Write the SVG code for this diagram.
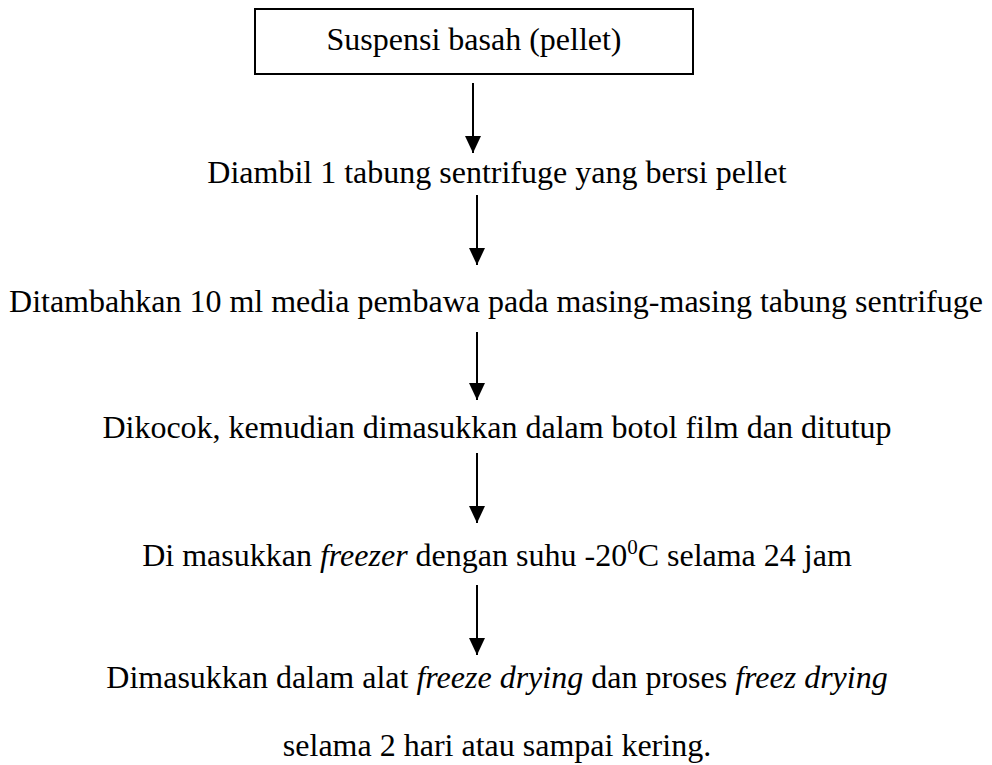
<svg xmlns="http://www.w3.org/2000/svg" width="992" height="765" viewBox="0 0 992 765">
<style>
.t{font-family:"Liberation Serif","Times New Roman",serif;font-size:32px;fill:#000;text-anchor:middle}
.i{font-style:italic}
.c{stroke:#000;stroke-width:2;fill:none}
</style>
<defs>
<marker id="ah" markerUnits="userSpaceOnUse" markerWidth="17" markerHeight="16" refX="17" refY="8" orient="auto" viewBox="0 0 17 16">
<path d="M0,0 L17,8 L0,16 Z" fill="#000"/>
</marker>
</defs>
<rect width="992" height="765" fill="#fff"/>
<g id="n1">
<rect x="255" y="9" width="438" height="65" fill="#fff" stroke="#000" stroke-width="2"/>
<text class="t" x="474" y="50">Suspensi basah (pellet)</text>
</g>
<g id="n2"><text class="t" x="497" y="183">Diambil 1 tabung sentrifuge yang bersi pellet</text></g>
<g id="n3"><text class="t" x="496" y="312">Ditambahkan 10 ml media pembawa pada masing-masing tabung sentrifuge</text></g>
<g id="n4"><text class="t" x="497" y="438">Dikocok, kemudian dimasukkan dalam botol film dan ditutup</text></g>
<g id="n5"><text class="t" x="497" y="566">Di masukkan <tspan class="i">freezer</tspan> dengan suhu -20<tspan font-size="21" dy="-12">0</tspan><tspan dy="12">C selama 24 jam</tspan></text></g>
<g id="n6">
<text class="t" x="497" y="688">Dimasukkan dalam alat <tspan class="i">freeze drying</tspan> dan proses <tspan class="i">freez drying</tspan></text>
<text class="t" x="497" y="756">selama 2 hari atau sampai kering.</text>
</g>
<g id="connectors">
<line class="c" x1="473" y1="83" x2="473" y2="153" marker-end="url(#ah)"/>
<line class="c" x1="477" y1="195" x2="477" y2="265" marker-end="url(#ah)"/>
<line class="c" x1="477" y1="332" x2="477" y2="400" marker-end="url(#ah)"/>
<line class="c" x1="477" y1="453" x2="477" y2="523" marker-end="url(#ah)"/>
<line class="c" x1="477" y1="585" x2="477" y2="655" marker-end="url(#ah)"/>
</g>
</svg>
